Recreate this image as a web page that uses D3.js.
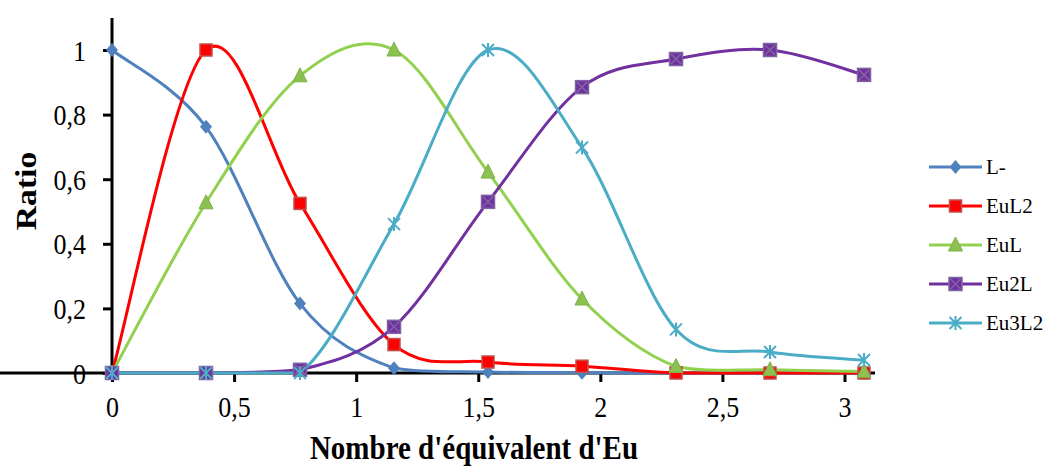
<!DOCTYPE html>
<html><head><meta charset="utf-8">
<script src="https://cdn.jsdelivr.net/npm/d3@7"></script>
<style>body{margin:0;background:#fff}svg{display:block}</style>
</head><body>
<svg id="c" width="1046" height="466"></svg>
<script>
const xValues = [0, 0.385, 0.77, 1.155, 1.54, 1.925, 2.31, 2.695, 3.08];
const seriesNames = ["L-", "EuL2", "EuL", "Eu2L", "Eu3L2"];
const L = [1, 0.762, 0.215, 0.015, 0.003, 0.001, 0, 0, 0];
const EuL2 = [0, 1, 0.525, 0.088, 0.034, 0.021, 0, 0, 0];
const EuL = [0, 0.527, 0.92, 1, 0.622, 0.229, 0.02, 0.01, 0.005];
const Eu2L = [0, 0, 0.01, 0.143, 0.53, 0.885, 0.972, 1, 0.923];
const Eu3L2 = [0, 0, 0, 0.461, 1, 0.698, 0.135, 0.065, 0.04];
const xTicks = [0, 0.5, 1, 1.5, 2, 2.5, 3];
const yTicks = [0, 0.2, 0.4, 0.6, 0.8, 1];
const colors = ["#4F81BD", "#FF0000", "#92D050", "#7030A0", "#4BACC6"];
const markers = ["diamond", "square", "triangle", "squarex", "star"];

const seriesData = [L, EuL2, EuL, Eu2L, Eu3L2];
const FONT = "Liberation Serif";
const svg = d3.select("#c");
const x = d3.scaleLinear().domain([0, 3.125]).range([112, 875]);
const y = d3.scaleLinear().domain([0, 1]).range([373, 50]);
const fmt = d => String(d).replace(".", ",");

// axes
const xa = svg.append("g").attr("transform", `translate(0,${y(0)})`)
  .call(d3.axisBottom(x).tickValues(xTicks).tickFormat(fmt).tickSize(9));
const ya = svg.append("g").attr("transform", `translate(${x(0)},0)`)
  .call(d3.axisLeft(y).tickValues(yTicks).tickFormat(fmt).tickSize(9));
[xa, ya].forEach(a => {
  a.attr("font-family", FONT);
  a.select(".domain").attr("stroke", "#000").attr("stroke-width", 3);
  a.selectAll(".tick line").attr("stroke", "#000").attr("stroke-width", 3);
  a.selectAll("text").attr("font-family", FONT).attr("font-size", 26).attr("fill", "#000")
    .attr("x", 0).attr("y", 0).attr("dy", null);
});
xa.selectAll("text").attr("text-anchor", "middle").attr("transform", "translate(0,44) scale(1,1.15)");
ya.selectAll("text").attr("text-anchor", "end").attr("transform", "translate(-26,10) scale(1,1.15)");
ya.select(".domain").attr("d", `M0,${y(0)}V18`);
xa.select(".domain").attr("d", `M0,0H${875}`);

// Excel-like smoothed curve (Catmull-Rom Bezier, control points kept above the zero baseline)
const base = y(0);
function ExcelCurve(context) { this._context = context; }
ExcelCurve.prototype = {
  areaStart() {}, areaEnd() {},
  lineStart() { this._pts = []; },
  point(px, py) { this._pts.push([+px, +py]); },
  lineEnd() {
    const p = this._pts, n = p.length, c = this._context;
    if (!n) return;
    c.moveTo(p[0][0], p[0][1]);
    for (let i = 0; i < n - 1; i++) {
      const p0 = p[Math.max(i - 1, 0)], p1 = p[i], p2 = p[i + 1], p3 = p[Math.min(i + 2, n - 1)];
      const c1x = p1[0] + (p2[0] - p0[0]) / 6, c1y = Math.min(base, p1[1] + (p2[1] - p0[1]) / 6);
      const c2x = p2[0] - (p3[0] - p1[0]) / 6, c2y = Math.min(base, p2[1] - (p3[1] - p1[1]) / 6);
      c.bezierCurveTo(c1x, c1y, c2x, c2y, p2[0], p2[1]);
    }
  }
};
const curveExcel = ctx => new ExcelCurve(ctx);
const line = d3.line().x((d, i) => x(xValues[i])).y(d => y(d)).curve(curveExcel);

function drawMarker(g, type, color, cx, cy) {
  if (type === "diamond") {
    g.append("path").attr("d", `M${cx},${cy-7}L${cx+6},${cy}L${cx},${cy+7}L${cx-6},${cy}Z`).attr("fill", color);
  } else if (type === "square") {
    g.append("rect").attr("x", cx-6).attr("y", cy-6).attr("width", 12).attr("height", 12)
      .attr("fill", "#FF0000").attr("stroke", "#C0504D").attr("stroke-width", 1.5);
  } else if (type === "triangle") {
    g.append("path").attr("d", `M${cx},${cy-8}L${cx+7},${cy+6}L${cx-7},${cy+6}Z`).attr("fill", "#8CC152").attr("stroke","#7FB048").attr("stroke-width",1);
  } else if (type === "squarex") {
    g.append("rect").attr("x", cx-6.5).attr("y", cy-6.5).attr("width", 13).attr("height", 13)
      .attr("fill", "#7030A0").attr("stroke", "#8064A2").attr("stroke-width", 1.5);
    g.append("path").attr("d", `M${cx-5},${cy-5}L${cx+5},${cy+5}M${cx+5},${cy-5}L${cx-5},${cy+5}`)
      .attr("stroke", "#8064A2").attr("stroke-width", 1.5);
  } else if (type === "star") {
    g.append("path").attr("d", `M${cx-6},${cy-6}L${cx+6},${cy+6}M${cx+6},${cy-6}L${cx-6},${cy+6}M${cx},${cy-7}L${cx},${cy+7}`)
      .attr("stroke", color).attr("stroke-width", 2);
  }
}

seriesData.forEach((vals, s) => {
  svg.append("path").datum(vals).attr("d", line).attr("fill", "none")
    .attr("stroke", colors[s]).attr("stroke-width", 3);
});
seriesData.forEach((vals, s) => {
  const g = svg.append("g");
  vals.forEach((v, i) => drawMarker(g, markers[s], colors[s], x(xValues[i]), y(v)));
});

// axis titles
svg.append("text").attr("transform", "translate(474,459) scale(1,1.15)").attr("text-anchor", "middle")
  .attr("font-family", FONT).attr("font-weight", "bold").attr("font-size", 29).text("Nombre d'équivalent d'Eu");
svg.append("text").attr("transform", "translate(36,191) rotate(-90) scale(1.12,1)").attr("text-anchor", "middle")
  .attr("font-family", FONT).attr("font-weight", "bold").attr("font-size", 30).text("Ratio");

// legend
seriesNames.forEach((n, s) => {
  const ly = 167 + s * 39;
  const g = svg.append("g");
  g.append("line").attr("x1", 929).attr("x2", 982).attr("y1", ly).attr("y2", ly)
    .attr("stroke", colors[s]).attr("stroke-width", 3);
  drawMarker(g, markers[s], colors[s], 955.5, ly);
  g.append("text").attr("x", 986).attr("y", ly + 7).attr("font-family", FONT)
    .attr("font-size", 21).attr("fill", "#000").text(n);
});
</script>
</body></html>
